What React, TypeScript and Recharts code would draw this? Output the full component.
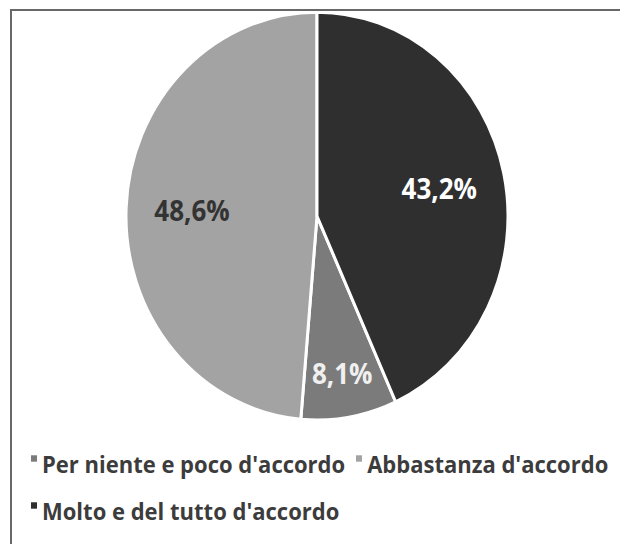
import React from "react";
import { PieChart, Pie, Cell, Legend } from "recharts";

const categories = [
  "Per niente e poco d'accordo",
  "Abbastanza d'accordo",
  "Molto e del tutto d'accordo",
];
const values = [8.1, 48.6, 43.2];
const valueLabels = ["8,1%", "48,6%", "43,2%"];
const sliceColors = ["#7b7b7b", "#a3a3a3", "#2f2f2f"];
const labelColors = ["#f0f0f0", "#333333", "#ffffff"];

const data = categories.map((name, i) => ({ name, value: values[i] }));
const total = values.reduce((a, b) => a + b, 0);
// the last category starts at 12 o'clock, running clockwise
const startAngle = 90 - (360 * values[values.length - 1]) / total;

const FONT = "'Open Sans', 'DejaVu Sans', sans-serif";
const RAD = Math.PI / 180;

const renderLabel = (props: any) => {
  const { cx, cy, midAngle, outerRadius, percent, index } = props;
  const r = outerRadius * (percent < 0.15 ? 0.78 : 0.655);
  const x = cx + r * Math.cos(-midAngle * RAD);
  const y = cy + r * Math.sin(-midAngle * RAD);
  return (
    <text
      x={x}
      y={y}
      textAnchor="middle"
      dominantBaseline="central"
      fill={labelColors[index]}
      style={{ fontFamily: FONT, fontWeight: 700, fontSize: 26 }}
    >
      {valueLabels[index]}
    </text>
  );
};

const renderLegend = () => (
  <div
    style={{
      display: "flex",
      flexWrap: "wrap",
      width: 640,
      paddingLeft: 19,
      boxSizing: "border-box",
      fontFamily: FONT,
      fontWeight: 700,
      fontSize: 22,
      lineHeight: "44px",
      color: "#3c3c3c",
    }}
  >
    {categories.map((c, i) => (
      <div key={c} style={{ display: "flex", whiteSpace: "nowrap", marginRight: 11 }}>
        <span
          style={{
            display: "inline-block",
            width: 6,
            height: 6,
            marginTop: 14,
            marginRight: 5,
            background: sliceColors[i],
          }}
        />
        <span>{c}</span>
      </div>
    ))}
  </div>
);

export default function App() {
  return (
    <div
      style={{
        position: "absolute",
        left: 10,
        top: 9,
        width: 610,
        height: 535,
        borderTop: "2px solid #686868",
        borderLeft: "2px solid #686868",
        boxSizing: "border-box",
        overflow: "hidden",
        background: "#fff",
      }}
    >
      <div style={{ transform: "scaleY(1.068)", transformOrigin: "0 0" }}>
        <PieChart width={608} height={490}>
          <Pie
            data={data}
            dataKey="value"
            nameKey="name"
            cx={300}
            cy={187}
            outerRadius={191}
            startAngle={startAngle}
            endAngle={startAngle - 360}
            stroke="#ffffff"
            strokeWidth={3}
            label={renderLabel}
            labelLine={false}
            isAnimationActive={false}
          >
            {data.map((d, i) => (
              <Cell key={d.name} fill={sliceColors[i]} />
            ))}
          </Pie>
          <Legend content={renderLegend} wrapperStyle={{ top: 402, left: 0, width: 640 }} />
        </PieChart>
      </div>
    </div>
  );
}
